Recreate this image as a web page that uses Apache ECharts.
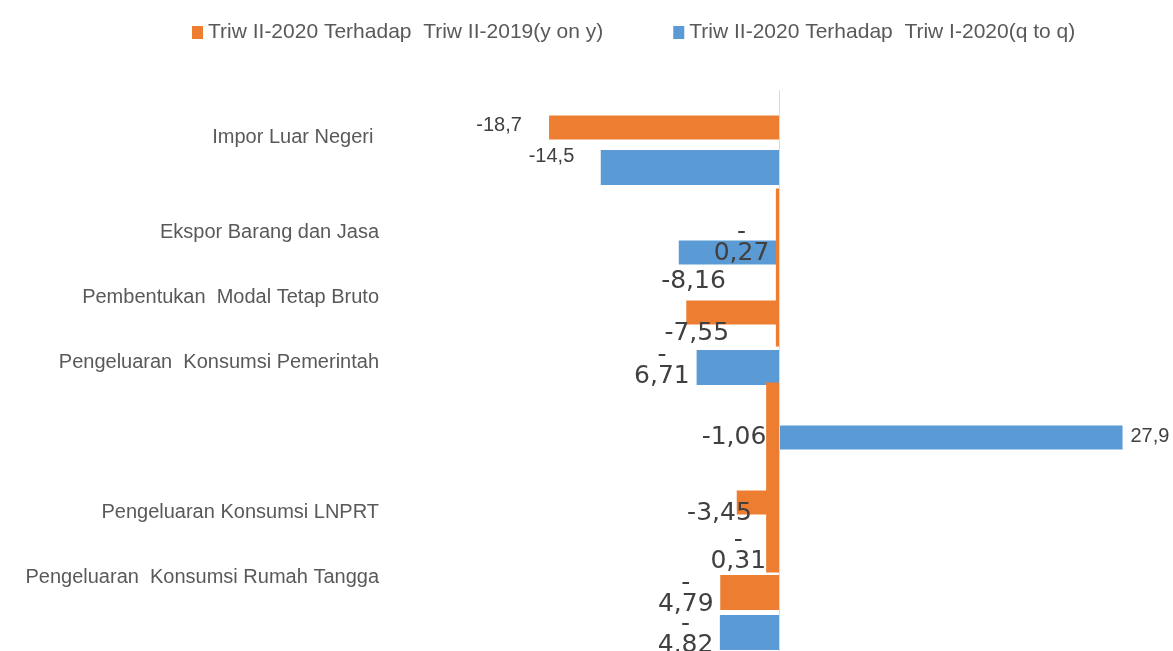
<!DOCTYPE html>
<html><head><meta charset="utf-8">
<script src="https://cdn.jsdelivr.net/npm/echarts@6/dist/echarts.min.js"></script>
<style>html,body{margin:0;padding:0;background:#fff}#chart{width:1173px;height:651px}</style>
</head><body><div id="chart"></div>
<script>
// ---------- data ----------
const categories = [
  'Impor Luar Negeri ',
  'Ekspor Barang dan Jasa',
  'Pembentukan  Modal Tetap Bruto',
  'Pengeluaran  Konsumsi Pemerintah',
  'Pengeluaran Konsumsi LNPRT',
  'Pengeluaran  Konsumsi Rumah Tangga'
];
const seriesNames = [
  'Triw II-2020 Terhadap  Triw II-2019(y on y)',
  'Triw II-2020 Terhadap  Triw I-2020(q to q)'
];
const yoyValues = [-18.7, -0.27, -7.55, -1.06, -3.45, -4.79];
const qtqValues = [-14.5, -8.16, -6.71, 27.9, -0.31, -4.82];

// ---------- layout (row placement as in the reference picture) ----------
const ROWS = 116, ROW_H = 5, GRID_TOP = 90;
const categoryRow = [9, 28, 41, 54, 84, 97];
const bandSize = {thin: 24, thick: 35, tallA: 158, tallB: 190};
const yoyLayout = [
  {row: 7,   band: 'thin',  font: 'small', off: [-165, -2.5]},
  {row: 35,  band: 'tallA', font: 'big', wrap: true, off: [-36, -24.5]},
  {row: 44,  band: 'thin',  font: 'big', off: [-36, 21]},
  {row: 77,  band: 'tallB', font: 'big', off: [-38.7, -40]},
  {row: 82,  band: 'thin',  font: 'big', off: [-38.5, 11]},
  {row: 100, band: 'thick', font: 'big', wrap: true, off: [-64, 1.5]}
];
const qtqLayout = [
  {row: 15,  band: 'thick', font: 'small', off: [-138.5, -11]},
  {row: 32,  band: 'thin',  font: 'big', off: [-35.5, 29]},
  {row: 55,  band: 'thick', font: 'big', wrap: true, off: [-76, -1.5]},
  {row: 69,  band: 'thin',  font: 'small', off: [199, -1]},
  {row: 91,  band: 'thick', font: 'big', wrap: true, off: [-39, 3]},
  {row: 108, band: 'thick', font: 'big', wrap: true, off: [-64, 2.5]}
];
const colors = ['#ED7D31', '#5B9BD5'];
const fonts = {
  small: {fontFamily: 'Liberation Sans', fontSize: 20, color: '#404040'},
  big: {fontFamily: 'DejaVu Sans', fontSize: 25, color: '#404040', lineHeight: 21}
};

// ---------- build ----------
const rowKeys = Array.from({length: ROWS}, (_, i) => 'r' + i);
const rowLabel = {};
categoryRow.forEach((r, i) => { rowLabel[r] = categories[i]; });

function fmt(v, wrap) {
  const s = String(Math.abs(v)).replace('.', ',');
  if (wrap) return (v < 0 ? '-\n' : '') + s;
  return (v < 0 ? '-' : '') + s;
}

const groups = [[1, 'thick'], [1, 'thin'], [0, 'thin'], [0, 'thick'], [0, 'tallA'], [0, 'tallB']];
const valueSets = [yoyValues, qtqValues];
const layoutSets = [yoyLayout, qtqLayout];

const yAxes = [{
  type: 'category', inverse: true, data: rowKeys, gridIndex: 0,
  axisLine: {show: false}, axisTick: {show: false}, splitLine: {show: false},
  axisLabel: {
    interval: 0, margin: 31, fontFamily: 'Liberation Sans', fontSize: 20, color: '#595959',
    formatter: (v, idx) => rowLabel[idx] || ''
  }
}];

const series = groups.map((g, k) => {
  const [si, band] = g;
  yAxes.push({type: 'category', inverse: true, data: rowKeys, show: false, gridIndex: 0});
  const data = rowKeys.map(() => null);
  layoutSets[si].forEach((lay, ci) => {
    if (lay.band !== band) return;
    const v = valueSets[si][ci];
    data[lay.row] = {
      value: v,
      label: Object.assign({show: true, position: 'inside', offset: lay.off,
        formatter: fmt(v, lay.wrap)}, fonts[lay.font])
    };
  });
  const s = {
    name: seriesNames[si], type: 'bar', yAxisIndex: k + 1, xAxisIndex: 0,
    barWidth: bandSize[band], data: data,
    itemStyle: {color: colors[si]},
    label: {show: false}
  };
  if (k === 0) {
    s.markLine = {silent: true, symbol: 'none', label: {show: false},
      lineStyle: {color: '#d9d9d9', width: 1, type: 'solid'}, data: [{xAxis: 0}]};
  }
  return s;
});

const chart = echarts.init(document.getElementById('chart'), null, {renderer: 'canvas'});
chart.setOption({
  animation: false,
  backgroundColor: '#ffffff',
  legend: {
    data: seriesNames, left: 187, top: 17, itemWidth: 11, itemHeight: 13, itemGap: 70,
    icon: 'rect',
    textStyle: {fontFamily: 'Liberation Sans', fontSize: 21, color: '#595959'}
  },
  grid: {left: 410, right: 0, top: GRID_TOP, height: ROWS * ROW_H, containLabel: false,
    outerBoundsMode: 'none'},
  xAxis: {type: 'value', min: -30, max: 32, show: false},
  yAxis: yAxes,
  series: series
});
</script></body></html>
